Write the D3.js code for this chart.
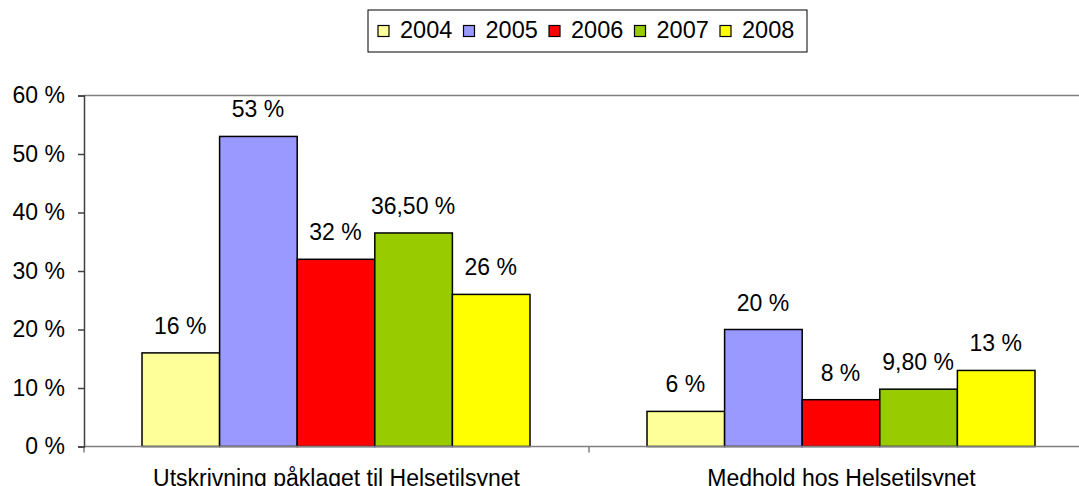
<!DOCTYPE html>
<html>
<head>
<meta charset="utf-8">
<script src="https://cdn.jsdelivr.net/npm/d3@7"></script>
<style>
  body { margin: 0; background: #fff; }
  svg { display: block; font-family: "Liberation Sans", Arial, sans-serif; }
</style>
</head>
<body>
<div id="chart"></div>
<script>
var categories = ["Utskrivning påklaget til Helsetilsynet", "Medhold hos Helsetilsynet"];
var years = ["2004", "2005", "2006", "2007", "2008"];
var colors = ["#ffff99", "#9999ff", "#ff0000", "#99cc00", "#ffff00"];
// one row per category, one value per year
var values = [
  [0.16, 0.53, 0.32, 0.365, 0.26],
  [0.06, 0.20, 0.08, 0.098, 0.13]
];
var labels = [
  ["16 %", "53 %", "32 %", "36,50 %", "26 %"],
  ["6 %", "20 %", "8 %", "9,80 %", "13 %"]
];
var yTicks = [0, 0.1, 0.2, 0.3, 0.4, 0.5, 0.6];

var svgWidth = 1079, svgHeight = 486;
var margin = { top: 95.5, left: 84, bottom: 39.5 };

var svg = d3.select("#chart").append("svg")
  .attr("width", svgWidth)
  .attr("height", svgHeight);

var y = d3.scaleLinear()
  .domain([0, 0.6])
  .range([svgHeight - margin.bottom, margin.top]);

var x0 = d3.scaleBand()
  .domain(categories)
  .range([margin.left, margin.left + 2 * 505]);

var x1 = d3.scaleBand()
  .domain(years)
  .range([0, x0.bandwidth()])
  .paddingOuter(0.754);

// top border line
svg.append("line")
  .attr("x1", margin.left).attr("x2", svgWidth)
  .attr("y1", y(0.6)).attr("y2", y(0.6))
  .attr("stroke", "#808080").attr("stroke-width", 1.5);

// bars
var groups = svg.selectAll(".grp")
  .data(categories)
  .enter().append("g")
  .attr("class", "grp")
  .attr("transform", function(d) { return "translate(" + x0(d) + ",0)"; });

groups.selectAll("rect")
  .data(function(d, i) {
    return years.map(function(yr, j) { return { year: yr, value: values[i][j], label: labels[i][j], c: colors[j] }; });
  })
  .enter().append("rect")
  .attr("x", function(d) { return x1(d.year) - 0.5; })
  .attr("width", x1.bandwidth())
  .attr("y", function(d) { return y(d.value); })
  .attr("height", function(d) { return y(0) - y(d.value); })
  .attr("fill", function(d) { return d.c; })
  .attr("stroke", "#000")
  .attr("stroke-width", 1.5);

groups.selectAll("text")
  .data(function(d, i) {
    return years.map(function(yr, j) { return { year: yr, value: values[i][j], label: labels[i][j] }; });
  })
  .enter().append("text")
  .attr("x", function(d) { return x1(d.year) + x1.bandwidth() / 2 - 1; })
  .attr("y", function(d) { return y(d.value) - 19; })
  .attr("text-anchor", "middle")
  .attr("font-size", 23)
  .attr("fill", "#000")
  .text(function(d) { return d.label; });

// x axis
var xAxis = svg.append("g")
  .attr("transform", "translate(0," + y(0) + ")")
  .call(d3.axisBottom(x0).tickSize(0).tickPadding(23));
xAxis.select(".domain").attr("stroke", "#808080").attr("stroke-width", 1.5)
  .attr("d", "M" + margin.left + ",0H" + (margin.left + 2 * 505));
xAxis.selectAll("text").attr("font-size", 23).attr("fill", "#000")
  .attr("font-family", "Liberation Sans, Arial, sans-serif");
xAxis.selectAll(".sep")
  .data([margin.left, margin.left + 505])
  .enter().append("line")
  .attr("x1", function(d) { return d; }).attr("x2", function(d) { return d; })
  .attr("y1", 0).attr("y2", 6)
  .attr("stroke", "#808080").attr("stroke-width", 1.5);

// y axis
var yAxis = svg.append("g")
  .attr("transform", "translate(" + margin.left + ",0)")
  .call(d3.axisLeft(y).tickValues(yTicks).tickSize(6).tickPadding(13)
    .tickFormat(function(d) { return Math.round(d * 100) + " %"; }));
yAxis.select(".domain").attr("stroke", "#404040").attr("stroke-width", 1.5);
yAxis.selectAll(".tick line").attr("stroke", "#404040").attr("stroke-width", 1.5);
yAxis.selectAll("text").attr("font-size", 23).attr("fill", "#000")
  .attr("font-family", "Liberation Sans, Arial, sans-serif");

// legend
var legend = svg.append("g").attr("transform", "translate(368,10)");
legend.append("rect")
  .attr("width", 439).attr("height", 42)
  .attr("fill", "#fff").attr("stroke", "#000").attr("stroke-width", 1);
var items = legend.selectAll(".item")
  .data(years)
  .enter().append("g")
  .attr("class", "item")
  .attr("transform", function(d, i) { return "translate(" + (10 + i * 85.5) + ",0)"; });
items.append("rect")
  .attr("y", 15.5).attr("width", 11).attr("height", 11)
  .attr("fill", function(d, i) { return colors[i]; })
  .attr("stroke", "#000").attr("stroke-width", 1.2);
items.append("text")
  .attr("x", 22).attr("y", 28)
  .attr("font-size", 23.5)
  .text(function(d) { return d; });
</script>
</body>
</html>
